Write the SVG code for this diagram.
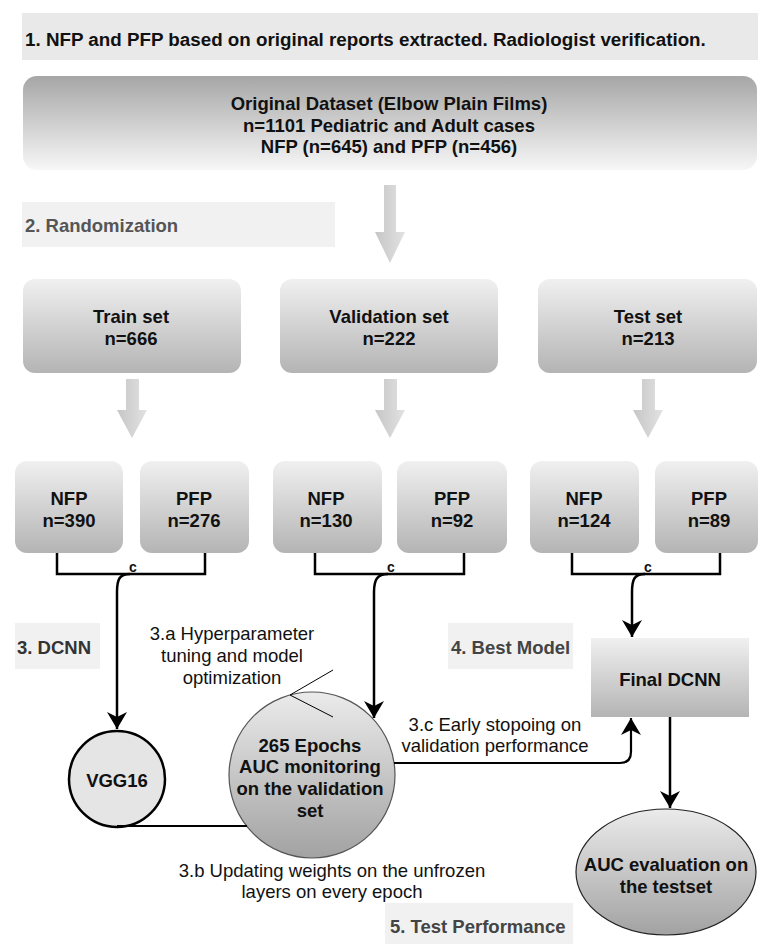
<svg xmlns="http://www.w3.org/2000/svg" width="758" height="944" viewBox="0 0 758 944">
<defs>
<linearGradient id="gDown" x1="0" y1="0" x2="0" y2="1"><stop offset="0" stop-color="#a6a6a6"/><stop offset="1" stop-color="#f7f7f7"/></linearGradient>
<linearGradient id="gBox" x1="0" y1="0" x2="0" y2="1"><stop offset="0" stop-color="#f0f0f0"/><stop offset="1" stop-color="#b4b4b4"/></linearGradient>
<linearGradient id="gCirc" x1="0" y1="0" x2="0" y2="1"><stop offset="0" stop-color="#ebebeb"/><stop offset="1" stop-color="#a2a2a2"/></linearGradient>
<linearGradient id="gArrow" x1="0" y1="0" x2="1" y2="0"><stop offset="0" stop-color="#c6c6c6"/><stop offset="1" stop-color="#e2e2e2"/></linearGradient>
<marker id="ah" viewBox="0 0 18 20" refX="17" refY="10" markerWidth="18" markerHeight="20" orient="auto" markerUnits="userSpaceOnUse"><path d="M0,0 L17,10 L0,20 L5,10 Z" fill="#000"/></marker>
</defs>
<style>
text{font-family:"Liberation Sans",Arial,sans-serif;font-size:18.5px;fill:#111}
.b{font-weight:bold}
.m{text-anchor:middle}
.band{fill:#f1f1f1}
.sec{font-weight:bold;fill:#444}
.box{fill:url(#gBox)}
.ln{fill:none;stroke:#000;stroke-width:2.5}
.thin{fill:none;stroke:#000;stroke-width:1}
.ga{fill:url(#gArrow)}
.c{font-size:14px;font-weight:bold}
</style>
<g id="labels">
<rect x="22" y="13" width="736" height="47" fill="#e9e9e9"/>
<text x="25" y="46" class="b" style="font-size:18.8px">1. NFP and PFP based on original reports extracted. Radiologist verification.</text>
<rect class="band" x="22" y="202" width="313" height="45"/>
<text x="25" y="232" class="b" style="fill:#555">2. Randomization</text>
<rect class="band" x="15" y="623" width="85" height="46"/>
<text x="17" y="654" class="sec" style="fill:#333">3. DCNN</text>
<rect class="band" x="448" y="623" width="125" height="46"/>
<text x="451" y="654" class="sec">4. Best Model</text>
<rect class="band" x="385" y="903" width="188" height="41"/>
<text x="390" y="933" class="sec">5. Test Performance</text>
<text class="m" x="232" y="640">3.a Hyperparameter</text>
<text class="m" x="232" y="662">tuning and model</text>
<text class="m" x="232" y="684">optimization</text>
<text class="m" x="495" y="731">3.c Early stopoing on</text>
<text class="m" x="495" y="752">validation performance</text>
<text class="m" x="332" y="877">3.b Updating weights on the unfrozen</text>
<text class="m" x="332" y="898">layers on every epoch</text>
</g>
<g id="dataset">
<rect x="23" y="76" width="734" height="94" rx="14" fill="url(#gDown)"/>
<text class="b m" x="389" y="110">Original Dataset (Elbow Plain Films)</text>
<text class="b m" x="389" y="132">n=1101 Pediatric and Adult cases</text>
<text class="b m" x="389" y="153">NFP (n=645) and PFP (n=456)</text>
</g>
<g id="train">
<rect class="box" x="23" y="279" width="218" height="94" rx="12"/>
<text class="b m" x="131" y="323">Train set</text>
<text class="b m" x="131" y="345">n=666</text>
</g>
<g id="validation">
<rect class="box" x="280" y="279" width="218" height="94" rx="12"/>
<text class="b m" x="389" y="323">Validation set</text>
<text class="b m" x="389" y="345">n=222</text>
</g>
<g id="test">
<rect class="box" x="538" y="279" width="219" height="94" rx="12"/>
<text class="b m" x="648" y="323">Test set</text>
<text class="b m" x="648" y="345">n=213</text>
</g>
<g id="train-nfp"><rect class="box" x="15" y="461" width="108" height="92" rx="12"/><text class="b m" x="69" y="505">NFP</text><text class="b m" x="69" y="527">n=390</text></g>
<g id="train-pfp"><rect class="box" x="140" y="461" width="109" height="92" rx="12"/><text class="b m" x="194" y="505">PFP</text><text class="b m" x="194" y="527">n=276</text></g>
<g id="val-nfp"><rect class="box" x="273" y="461" width="109" height="92" rx="12"/><text class="b m" x="326" y="505">NFP</text><text class="b m" x="326" y="527">n=130</text></g>
<g id="val-pfp"><rect class="box" x="397" y="461" width="110" height="92" rx="12"/><text class="b m" x="452" y="505">PFP</text><text class="b m" x="452" y="527">n=92</text></g>
<g id="test-nfp"><rect class="box" x="530" y="461" width="109" height="92" rx="12"/><text class="b m" x="584" y="505">NFP</text><text class="b m" x="584" y="527">n=124</text></g>
<g id="test-pfp"><rect class="box" x="655" y="461" width="103" height="92" rx="12"/><text class="b m" x="709" y="505">PFP</text><text class="b m" x="709" y="527">n=89</text></g>
<g id="vgg16">
<circle cx="117" cy="779" r="48" fill="#e5e5e5" stroke="#000" stroke-width="2.5"/>
<text class="b m" x="117" y="787">VGG16</text>
</g>
<g id="epochs">
<circle cx="312" cy="775" r="83" fill="url(#gCirc)" stroke="#555" stroke-width="1.2"/>
<text class="b m" x="310" y="752">265 Epochs</text>
<text class="b m" x="310" y="773">AUC monitoring</text>
<text class="b m" x="310" y="795">on the validation</text>
<text class="b m" x="310" y="817">set</text>
</g>
<g id="final">
<rect x="591" y="638" width="158" height="79" fill="url(#gBox)"/>
<text class="b m" x="670" y="686">Final DCNN</text>
</g>
<g id="auc">
<ellipse cx="666" cy="872" rx="90" ry="63" fill="url(#gCirc)" stroke="#222" stroke-width="1.2"/>
<text class="b m" x="666" y="871">AUC evaluation on</text>
<text class="b m" x="666" y="893">the testset</text>
</g>
<g id="connectors">
<polygon class="ga" points="384,185 396,185 396,232 405,232 390,263 375,232 384,232"/>
<polygon class="ga" points="126,379 139,379 139,410 147,410 132,438 117,410 126,410"/>
<polygon class="ga" points="384,379 397,379 397,410 405,410 390,438 375,410 384,410"/>
<polygon class="ga" points="642,379 655,379 655,410 663,410 648,438 633,410 642,410"/>
<path class="ln" d="M57,553 V574 H205 V553"/>
<path class="ln" d="M315,553 V574 H464 V553"/>
<path class="ln" d="M572,553 V574 H720 V553"/>
<text class="c m" x="133" y="572">c</text>
<text class="c m" x="391" y="572">c</text>
<text class="c m" x="648" y="572">c</text>
<path class="ln" d="M130,574 C119,574 117,580 117,592 V729" marker-end="url(#ah)"/>
<path class="ln" d="M388,574 C377,574 374,580 374,592 V718" marker-end="url(#ah)"/>
<path class="ln" d="M645,574 C634,574 632,580 632,592 V637" marker-end="url(#ah)"/>
<path class="ln" d="M117,826 H247" style="stroke-width:2"/>
<path class="ln" d="M394,763 H620 Q631,763 631,752 V718" style="stroke-width:2.2" marker-end="url(#ah)"/>
<path class="ln" d="M670,717 V808" marker-end="url(#ah)"/>
<polyline class="thin" points="333,670 290,695 333,717"/>
</g>
</svg>
